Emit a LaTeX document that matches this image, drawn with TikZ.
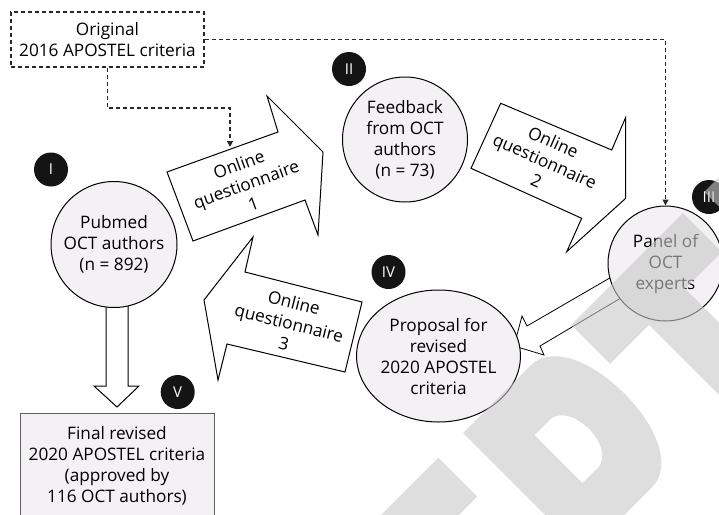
\documentclass[tikz,border=0pt]{standalone}
\usepackage{fontspec}
\setmainfont{Open Sans}
\usetikzlibrary{arrows.meta,shapes.geometric}
\definecolor{cfill}{RGB}{243,241,243}
\definecolor{wm}{RGB}{200,200,200}
\definecolor{dashc}{RGB}{40,40,40}
\definecolor{boxline}{RGB}{95,95,95}
\definecolor{badgec}{RGB}{20,20,20}
\newcommand{\mainfs}{\fontsize{17.2}{21}\selectfont}
\newcommand{\badgefs}{\fontsize{15}{18}\selectfont}
\tikzset{
  circ/.style={circle, draw=black, line width=1pt, fill=cfill, inner sep=0pt, align=center, font=\mainfs},
  badge/.style={circle, fill=badgec, text=white, minimum size=34pt, inner sep=0pt, font=\badgefs},
  barrow/.style={draw=black, line width=1pt, fill=white, line join=miter},
  qtext/.style={align=center, font=\mainfs, inner sep=0pt},
  dashln/.style={draw=dashc, line width=1.1pt, dash pattern=on 4pt off 3pt, -{Triangle[length=6pt,width=6pt]}},
  wmark/.style={fill=wm, fill opacity=0.6, draw=none},
}
\begin{document}
\begin{tikzpicture}[x=1pt, y=-1pt]
\useasboundingbox (0,0) rectangle (719,514);
\clip (0,0) rectangle (719,514);

% block arrows
\draw[barrow] (106,300) -- (106,386) -- (94,386) -- (117,407) -- (139,386) -- (128,386) -- (128,300) -- cycle;
\draw[barrow] (167,172) -- (278,132) -- (267,96) -- (323,152) -- (318,235) -- (305,200) -- (193,241) -- cycle;
\draw[barrow] (500.7,103.3) -- (611.7,150) -- (625.7,117.3) -- (625.7,198.3) -- (566.7,251.7) -- (581.7,218.3) -- (471,168.3) -- cycle;
\draw[barrow] (253,237) -- (245,272) -- (362,302) -- (345,372) -- (227,344) -- (218,380) -- (204,300) -- cycle;
\draw[barrow, line width=0.8pt] (627,268) -- (527,326) -- (522,316) -- (514,346) -- (544,355) -- (540,346) -- (636,289) -- cycle;

% circles
\node[circ, minimum size=126pt] (pubmed) at (114,244.5) {Pubmed\\OCT authors\\(n = 892)};
\node[circ, minimum size=125pt] (feedback) at (405,139.5) {Feedback\\from OCT\\authors\\(n = 73)};
\node[circ, minimum size=115pt] (panel) at (665.5,263.5) {Panel of\\OCT\\experts};
\node[ellipse, draw=black, line width=1pt, fill=cfill, inner sep=0pt, align=center, font=\mainfs,
      minimum width=141pt, minimum height=132pt] (proposal) at (438.5,356) {Proposal for\\revised\\2020 APOSTEL\\criteria};

% boxes
\node[draw=dashc, line width=1.1pt, dash pattern=on 4pt off 3pt, fill=white, minimum width=193pt, minimum height=55pt,
      inner sep=0pt, align=center, font=\mainfs] (orig) at (107.5,39.5) {Original\\2016 APOSTEL criteria};
\node[draw=boxline, line width=1pt, fill=cfill, minimum width=194pt, minimum height=104pt, anchor=north,
      inner sep=0pt, align=center, font=\mainfs] (final) at (117,413) {Final revised\\2020 APOSTEL criteria\\(approved by\\116 OCT authors)};

% questionnaire labels
\node[qtext, rotate=20] (q1) at (246,184) {Online\\questionnaire\\1};
\node[qtext, rotate=-24] (q2) at (545,161) {Online\\questionnaire\\2};
\node[qtext, rotate=-14] (q3) at (289,323) {Online\\questionnaire\\3};

% dashed connectors
\coordinate (bend1) at (107.5,108);
\coordinate (q1in) at (230,147);
\draw[dashln] (orig.south) -- (bend1) -| (q1in);
\draw[dashln] (orig.east) -| (panel.north);

% badges
\node[badge] (b1) at (51,169.5) {I};
\node[badge] (b2) at (349,69) {II};
\node[badge] (b3) at (709,197) {III};
\node[badge] (b4) at (388.5,272) {IV};
\node[badge] (b5) at (177.7,392) {V};

% watermark
\begin{scope}[shift={(463,433)}, x={(0.7071pt,0.7071pt)}, y={(-0.7071pt,0.7071pt)}]
  \fill[wmark] (-35,0) -- (-35,-55) -- (-200,-55) -- (-200,0) -- cycle;
  \fill[wmark, even odd rule] (0,0) -- (95,0) .. controls (125,0) and (142,-40) .. (142,-86)
        .. controls (142,-132) and (125,-172) .. (95,-172) -- (0,-172) -- cycle
        (49,-52) -- (70,-52) .. controls (85,-52) and (92,-70) .. (92,-86)
        .. controls (92,-102) and (85,-120) .. (70,-120) -- (49,-120) -- cycle;
  \fill[wmark] (153,0) -- (311,0) -- (311,-55) -- (259,-55) -- (259,-172) -- (208,-172) -- (208,-55) -- (153,-55) -- cycle;
  \fill[wmark] (341,0) -- (392,0) -- (392,-172) -- (341,-172) -- cycle;
\end{scope}
\end{tikzpicture}
\end{document}
